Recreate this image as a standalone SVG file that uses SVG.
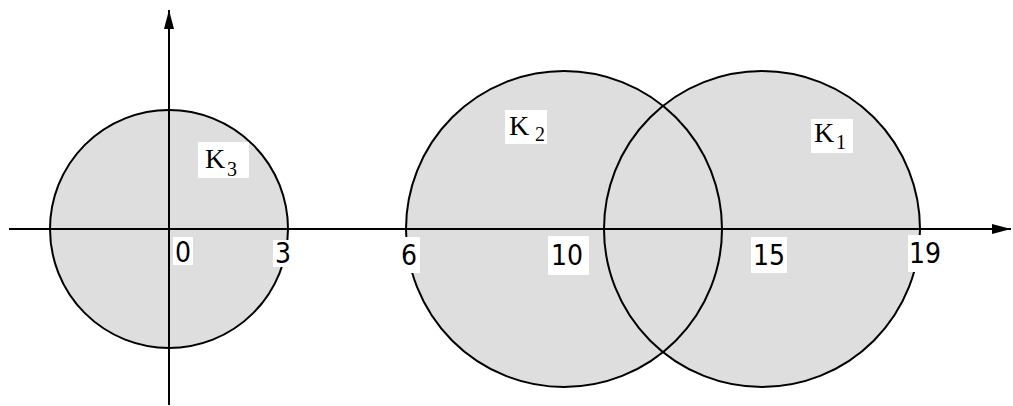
<svg xmlns="http://www.w3.org/2000/svg" width="1013" height="406" viewBox="0 0 1013 406">
<defs>
<style>
.fill{fill:#dedede;stroke:none}
.ring{fill:none;stroke:#000;stroke-width:2}
.axis{stroke:#000;stroke-width:2;fill:none}
.bg{fill:#fff}
.num{font-family:"DejaVu Sans Condensed","DejaVu Sans",sans-serif;font-stretch:condensed;font-size:28px;fill:#000}
.k{font-family:"Liberation Serif",serif;font-size:28px;fill:#000}
.sub{font-family:"Liberation Serif",serif;font-size:20px;fill:#000}
</style>
<marker id="arr" markerWidth="19" markerHeight="10" refX="19" refY="5" orient="auto" markerUnits="userSpaceOnUse">
<path d="M0,0 L19,5 L0,10 Z" fill="#000"/>
</marker>
</defs>
<g id="fills">
<circle class="fill" cx="169" cy="229" r="119"/>
<circle class="fill" cx="564" cy="229" r="158"/>
<circle class="fill" cx="762" cy="229" r="158"/>
</g>
<g id="K3"><circle class="ring" cx="169" cy="229" r="119"/></g>
<g id="K2"><circle class="ring" cx="564" cy="229" r="158"/></g>
<g id="K1"><circle class="ring" cx="762" cy="229" r="158"/></g>
<g id="connectors">
<line class="axis" x1="9" y1="229" x2="1011" y2="229" marker-end="url(#arr)"/>
<line class="axis" x1="169" y1="405" x2="169" y2="10" marker-end="url(#arr)"/>
</g>
<g id="labels">
<g id="lblK3"><rect class="bg" x="198" y="142" width="51" height="36"/><text class="k" x="205" y="168">K</text><text class="sub" x="227" y="176">3</text></g>
<g id="lblK2"><rect class="bg" x="505" y="110" width="42" height="34"/><text class="k" x="509" y="135">K</text><text class="sub" x="535" y="141">2</text></g>
<g id="lblK1"><rect class="bg" x="811" y="119" width="42" height="34"/><text class="k" x="814" y="142">K</text><text class="sub" x="836" y="149">1</text></g>
<g id="lbl0"><rect class="bg" x="173" y="237" width="20" height="28"/><text class="num" x="175" y="262">0</text></g>
<g id="lbl3"><rect class="bg" x="273" y="240" width="19" height="27"/><text class="num" x="275" y="263">3</text></g>
<g id="lbl6"><rect class="bg" x="398" y="237" width="22" height="36"/><text class="num" x="401" y="265">6</text></g>
<g id="lbl10"><rect class="bg" x="548" y="236" width="41" height="39"/><text class="num" x="551" y="265">10</text></g>
<g id="lbl15"><rect class="bg" x="751" y="237" width="36" height="36"/><text class="num" x="753" y="265">15</text></g>
<g id="lbl19"><rect class="bg" x="908" y="235" width="29" height="37"/><text class="num" x="909" y="263">19</text></g>
</g>
</svg>
